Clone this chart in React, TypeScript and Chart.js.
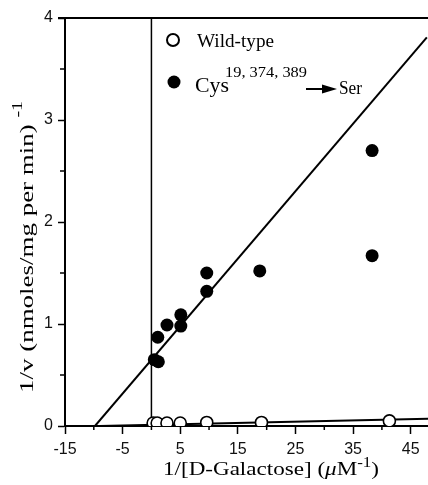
import React, { useEffect, useRef } from "react";
import { Chart, registerables } from "chart.js";
Chart.register(...registerables);

// Cys19,374,389 -> Ser mutant (filled)
const cysX = [0.5, 1.2, 1.1, 2.7, 5.1, 5.1, 9.6, 9.6, 18.8, 38.3, 38.3];
const cysY = [0.65, 0.63, 0.87, 0.99, 1.09, 0.98, 1.5, 1.32, 1.52, 2.7, 1.67];
// Wild-type (open)
const wtX = [0.3, 1.0, 2.7, 5.0, 9.6, 19.1, 41.3];
const wtY = [0.03, 0.03, 0.03, 0.03, 0.035, 0.035, 0.05];
// fitted lines
const cysFitX = [-9.8, 47.8];
const cysFitY = [0, 3.81];
const wtFitX = [-9, 48];
const wtFitY = [0, 0.07];
const zeroLineX = [0, 0];
const zeroLineY = [0, 4];

const xMajorTicks = [-15, -5, 5, 15, 25, 35, 45];
const xMinorTicks = [-10, 0, 10, 20, 30, 40];
const yMajorTicks = [0, 1, 2, 3, 4];
const yMinorTicks = [0.5, 1.5, 2.5, 3.5];

const SERIF = "'Liberation Serif', 'Times New Roman', serif";
const SANS = "'Liberation Sans', Arial, sans-serif";

const pts = (xs: number[], ys: number[]) => xs.map((x, i) => ({ x, y: ys[i] }));

type Run = { t: string; font: string; dy?: number };

// draws a sequence of text runs starting at (0,0), stretched horizontally to targetW
function drawRuns(ctx: CanvasRenderingContext2D, runs: Run[], targetW: number) {
  let total = 0;
  for (const r of runs) {
    ctx.font = r.font;
    total += ctx.measureText(r.t).width;
  }
  const s = targetW / total;
  ctx.save();
  ctx.scale(s, 1);
  let x = 0;
  for (const r of runs) {
    ctx.font = r.font;
    ctx.fillText(r.t, x, r.dy || 0);
    x += ctx.measureText(r.t).width;
  }
  ctx.restore();
}

const annotPlugin = {
  id: "annot",
  afterDraw(chart: any) {
    const ctx = chart.ctx as CanvasRenderingContext2D;
    const { left, right, top, bottom } = chart.chartArea;
    const xs = chart.scales.x;
    const ys = chart.scales.y;
    ctx.save();
    ctx.strokeStyle = "#000";
    ctx.fillStyle = "#000";
    // top frame line
    ctx.lineWidth = 2;
    ctx.beginPath();
    ctx.moveTo(left - 7, top);
    ctx.lineTo(right, top);
    ctx.stroke();
    // minor ticks
    ctx.lineWidth = 1.5;
    ctx.beginPath();
    for (const v of xMinorTicks) {
      const px = xs.getPixelForValue(v);
      ctx.moveTo(px, bottom);
      ctx.lineTo(px, bottom + 4);
    }
    for (const v of yMinorTicks) {
      const py = ys.getPixelForValue(v);
      ctx.moveTo(left, py);
      ctx.lineTo(left - 5, py);
    }
    ctx.stroke();

    // legend
    ctx.lineWidth = 2;
    ctx.fillStyle = "#fff";
    ctx.beginPath();
    ctx.arc(173, 40, 6, 0, Math.PI * 2);
    ctx.fill();
    ctx.stroke();
    ctx.fillStyle = "#000";
    ctx.beginPath();
    ctx.arc(174, 82, 6.5, 0, Math.PI * 2);
    ctx.fill();

    ctx.textAlign = "left";
    ctx.textBaseline = "alphabetic";
    ctx.save();
    ctx.translate(197, 47);
    drawRuns(ctx, [{ t: "Wild-type", font: `19px ${SERIF}` }], 77);
    ctx.restore();
    ctx.save();
    ctx.translate(195, 92);
    drawRuns(ctx, [{ t: "Cys", font: `20px ${SERIF}` }], 34);
    ctx.restore();
    ctx.save();
    ctx.translate(225, 77);
    drawRuns(ctx, [{ t: "19, 374, 389", font: `14px ${SERIF}` }], 82);
    ctx.restore();
    // arrow
    ctx.lineWidth = 2;
    ctx.beginPath();
    ctx.moveTo(306, 89);
    ctx.lineTo(326, 89);
    ctx.stroke();
    ctx.beginPath();
    ctx.moveTo(337, 89);
    ctx.lineTo(322, 84.5);
    ctx.lineTo(322, 93.5);
    ctx.closePath();
    ctx.fill();
    ctx.save();
    ctx.translate(339, 94);
    drawRuns(ctx, [{ t: "Ser", font: `19px ${SERIF}` }], 23);
    ctx.restore();

    // y title (rotated)
    ctx.save();
    ctx.translate(33, 393);
    ctx.rotate(-Math.PI / 2);
    drawRuns(
      ctx,
      [
        { t: "1/v (nmoles/mg per min) ", font: `19px ${SERIF}` },
        { t: "-1", font: `14px ${SERIF}`, dy: -11 },
      ],
      292
    );
    ctx.restore();

    // x title
    ctx.save();
    ctx.translate(163, 475);
    drawRuns(
      ctx,
      [
        { t: "1/[D-Galactose] (", font: `19px ${SERIF}` },
        { t: "\u03bc", font: `italic 19px ${SERIF}` },
        { t: "M", font: `19px ${SERIF}` },
        { t: "-1", font: `14px ${SERIF}`, dy: -8 },
        { t: ")", font: `19px ${SERIF}` },
      ],
      216
    );
    ctx.restore();
    ctx.restore();
  },
};

export default function App() {
  const ref = useRef<HTMLCanvasElement | null>(null);
  useEffect(() => {
    if (!ref.current) return;
    const chart = new Chart(ref.current, {
      type: "scatter",
      data: {
        datasets: [
          {
            label: "Cys",
            data: pts(cysX, cysY),
            backgroundColor: "#000",
            borderColor: "#000",
            pointRadius: 6.5,
            pointBorderWidth: 0,
            order: 1,
          },
          {
            label: "Wild-type",
            data: pts(wtX, wtY),
            backgroundColor: "#fff",
            borderColor: "#000",
            pointRadius: 6,
            pointBorderWidth: 1.6,
            order: 0,
          },
          {
            label: "cysfit",
            data: pts(cysFitX, cysFitY),
            showLine: true,
            borderColor: "#000",
            borderWidth: 2,
            pointRadius: 0,
            order: 3,
          },
          {
            label: "wtfit",
            data: pts(wtFitX, wtFitY),
            showLine: true,
            borderColor: "#000",
            borderWidth: 2,
            pointRadius: 0,
            order: 3,
          },
          {
            label: "zero",
            data: pts(zeroLineX, zeroLineY),
            showLine: true,
            borderColor: "#000",
            borderWidth: 1.5,
            pointRadius: 0,
            order: 3,
          },
        ],
      },
      options: {
        animation: false,
        responsive: false,
        devicePixelRatio: 1,
        layout: { autoPadding: false, padding: { top: 18, right: 0, left: 0, bottom: 0 } },
        plugins: { legend: { display: false }, tooltip: { enabled: false } },
        scales: {
          x: {
            type: "linear",
            min: -15,
            max: 48,
            afterFit: (s: any) => {
              s.height = 59;
              s.paddingLeft = 0;
              s.paddingRight = 0;
            },
            afterBuildTicks: (s: any) => {
              s.ticks = xMajorTicks.map((v) => ({ value: v }));
            },
            border: { display: true, color: "#000", width: 2 },
            grid: { drawOnChartArea: false, tickLength: 8, tickWidth: 1.5, tickColor: "#000" },
            ticks: {
              color: "#111",
              font: { family: SANS, size: 16 },
              padding: 6,
              maxRotation: 0,
              autoSkip: false,
            },
          },
          y: {
            type: "linear",
            min: 0,
            max: 4,
            afterFit: (s: any) => {
              s.width = 65;
              s.paddingTop = 0;
              s.paddingBottom = 0;
            },
            afterBuildTicks: (s: any) => {
              s.ticks = yMajorTicks.map((v) => ({ value: v }));
            },
            border: { display: true, color: "#000", width: 2 },
            grid: { drawOnChartArea: false, tickLength: 7, tickWidth: 1.5, tickColor: "#000" },
            ticks: {
              color: "#111",
              font: { family: SANS, size: 16 },
              padding: 5,
              autoSkip: false,
            },
          },
        },
      },
      plugins: [annotPlugin],
    } as any);
    return () => chart.destroy();
  }, []);
  return (
    <div style={{ position: "fixed", left: 0, top: 0, width: 428, height: 485, background: "#fff" }}>
      <canvas ref={ref} width={428} height={485} style={{ display: "block", width: 428, height: 485 }} />
    </div>
  );
}
